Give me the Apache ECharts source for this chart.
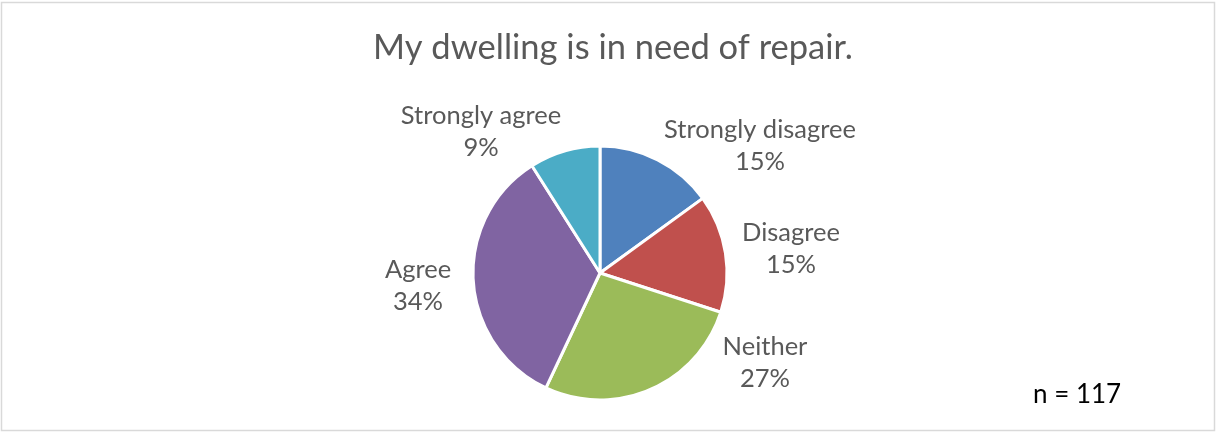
<!DOCTYPE html>
<html>
<head>
<meta charset="utf-8">
<script src="https://cdn.jsdelivr.net/npm/echarts@6/dist/echarts.min.js"></script>
<style>
  html, body { margin: 0; padding: 0; background: #ffffff; }
  #chart { width: 1219px; height: 433px; }
</style>
</head>
<body>
<div id="chart"></div>
<script>
// Survey responses: "My dwelling is in need of repair." (percent of respondents)
const categories = ['Strongly disagree', 'Disagree', 'Neither', 'Agree', 'Strongly agree'];
const shares = [15, 15, 27, 34, 9];
const sampleNote = 'n = 117';

const colors = ['#4F81BD', '#C0504D', '#9BBB59', '#8064A2', '#4BACC6'];

// Where each two-line label sits, as an offset from the pie centre
const labelOffsets = [
  [160, -127],
  [191, -24],
  [165, 90],
  [-182, 13],
  [-119, -141]
];

const chart = echarts.init(document.getElementById('chart'), null, { renderer: 'canvas' });
const cx = 600, cy = 273;

chart.setOption({
  animation: false,
  backgroundColor: '#ffffff',
  title: {
    text: 'My dwelling is in need of repair.',
    left: 608,
    top: 25,
    textAlign: 'center',
    textStyle: { fontFamily: 'Lato', fontSize: 34.5, fontWeight: 'normal', color: '#595959' }
  },
  graphic: [
    {
      type: 'rect',
      shape: { x: 1.5, y: 2.5, width: 1213, height: 428 },
      style: { fill: 'none', stroke: '#d9d9d9', lineWidth: 1.5 },
      z: -1
    },
    {
      type: 'text',
      left: 1033,
      top: 382,
      style: { text: sampleNote, fontFamily: 'Lato', fontSize: 26, fill: '#000000' }
    }
  ],
  series: [{
    type: 'pie',
    center: [cx, cy],
    radius: 127,
    startAngle: 90,
    clockwise: true,
    data: categories.map((name, i) => ({ name, value: shares[i] })),
    itemStyle: {
      color: (p) => colors[p.dataIndex],
      borderColor: '#ffffff',
      borderWidth: 3
    },
    label: {
      show: true,
      position: 'outside',
      formatter: (p) => p.name + '\n' + p.value + '%',
      fontFamily: 'Lato',
      fontSize: 25.5,
      lineHeight: 32,
      color: '#595959',
      align: 'center'
    },
    labelLine: { show: false },
    labelLayout: (p) => {
      const o = labelOffsets[p.dataIndex];
      return { x: cx + o[0], y: cy + o[1], align: 'center', verticalAlign: 'middle' };
    }
  }]
});
</script>
</body>
</html>
